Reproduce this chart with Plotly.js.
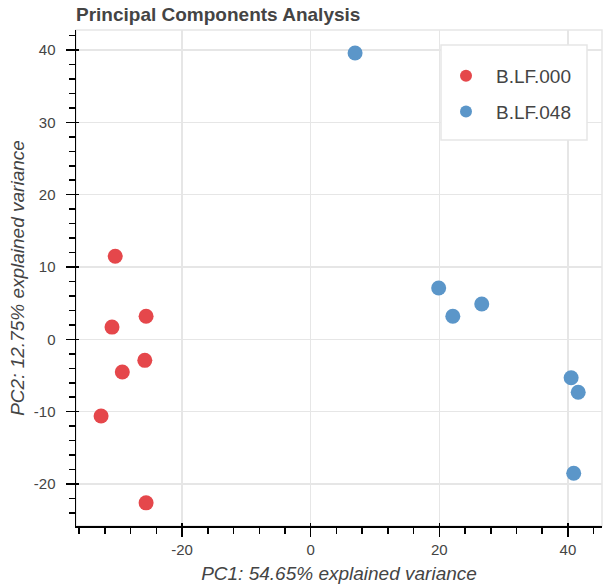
<!DOCTYPE html>
<html>
<head>
<meta charset="utf-8">
<script src="https://cdn.plot.ly/plotly-3.0.1.min.js"></script>
<style>html,body{margin:0;padding:0;background:#fff;}#chart{width:609px;height:584px;}</style>
</head>
<body>
<div id="chart"></div>
<script>
// Group labels
const groupNames = ["B.LF.000", "B.LF.048"];
// PC scores
const pc1Red  = [-30.4, -30.9, -25.6, -25.8, -29.3, -32.6, -25.6];
const pc2Red  = [11.5, 1.7, 3.2, -2.9, -4.5, -10.6, -22.6];
const pc1Blue = [6.9, 19.9, 22.1, 26.6, 40.5, 41.6, 40.9];
const pc2Blue = [39.6, 7.1, 3.2, 4.9, -5.3, -7.3, -18.5];
const groupColors = ["#e5474b", "#5b96c9"];
// Tick labels (plain hyphen minus, as in the reference)
const xTickVals = [-20, 0, 20, 40];
const xTickText = ["-20", "0", "20", "40"];
const yTickVals = [-20, -10, 0, 10, 20, 30, 40];
const yTickText = ["-20", "-10", "0", "10", "20", "30", "40"];
// Axis texts
const titleText = "Principal Components Analysis";
const xTitle = "PC1: 54.65% explained variance";
const yTitle = "PC2: 12.75% explained variance";
const xRange = [-36.5, 45.3];
const yRange = [-25.8, 42.77];

const FONT = "Liberation Sans, Arial, Helvetica, sans-serif";
const TXT = "#444444";

const traces = [
  {x: pc1Red, y: pc2Red, name: groupNames[0], legendgroup: "a", type: "scatter", mode: "markers",
   marker: {size: 15, color: groupColors[0], line: {width: 0}}},
  {x: pc1Blue, y: pc2Blue, name: groupNames[1], legendgroup: "b", type: "scatter", mode: "markers",
   marker: {size: 15, color: groupColors[1], line: {width: 0}}},
  {x: [], y: [], xaxis: "x2", yaxis: "y2", showlegend: false, type: "scatter", mode: "markers", hoverinfo: "skip"}
];

const axisCommon = {
  showline: true, linecolor: "#000", linewidth: 1.5,
  ticks: "outside", ticklen: 9, tickwidth: 1.5, tickcolor: "#000",
  showgrid: true, gridcolor: "#e6e6e6", gridwidth: 1.3,
  zeroline: false,
  tickfont: {family: FONT, size: 15, color: TXT},
  fixedrange: true
};

const layout = {
  width: 609, height: 584,
  margin: {l: 76, r: 7, t: 30, b: 58, pad: 0},
  paper_bgcolor: "#fff", plot_bgcolor: "#fff",
  font: {family: FONT, color: TXT},
  title: {text: "<b>" + titleText + "</b>", font: {family: FONT, size: 19, color: TXT},
          x: 76/609, xanchor: "left", xref: "container", y: 1 - 14/584, yanchor: "middle", yref: "container"},
  xaxis: Object.assign({}, axisCommon, {
    range: xRange, tickmode: "array", tickvals: xTickVals, ticktext: xTickText,
    minor: {tick0: 0, dtick: 4, ticks: "outside", ticklen: 6, tickwidth: 1.5, tickcolor: "#000", showgrid: false},
    title: {text: "<i>" + xTitle + "</i>", font: {family: FONT, size: 19, color: TXT}, standoff: 15}
  }),
  yaxis: Object.assign({}, axisCommon, {
    range: yRange, tickmode: "array", tickvals: yTickVals, ticktext: yTickText,
    minor: {tick0: 0, dtick: 2, ticks: "outside", ticklen: 6, tickwidth: 1.5, tickcolor: "#000", showgrid: false},
    ticklabelstandoff: 7,
    title: {text: "<i>" + yTitle + "</i>", font: {family: FONT, size: 19, color: TXT}, standoff: 4}
  }),
  xaxis2: {overlaying: "x", anchor: "y2", range: xRange, tickmode: "array", tickvals: xTickVals, ticks: "inside", ticklen: 3,
           tickwidth: 1.5, tickcolor: "#000", showticklabels: false, showgrid: false, zeroline: false, showline: false, fixedrange: true},
  yaxis2: {overlaying: "y", anchor: "x2", range: yRange, tickmode: "array", tickvals: yTickVals, ticks: "inside", ticklen: 3,
           tickwidth: 1.5, tickcolor: "#000", showticklabels: false, showgrid: false, zeroline: false, showline: false, fixedrange: true},
  shapes: [
    {type: "rect", xref: "paper", yref: "paper", x0: 0, x1: 1, y0: 0, y1: 1,
     line: {color: "#e6e6e6", width: 1.5}, fillcolor: "rgba(0,0,0,0)", layer: "below"},
    {type: "rect", xref: "paper", yref: "paper", x0: (441-76)/526, x1: (587-76)/526, y0: (526-140)/496, y1: (526-45)/496,
     line: {color: "#e6e6e6", width: 1.5}, fillcolor: "#fff", layer: "above"}
  ],
  showlegend: true,
  legend: {x: (436-76)/526, xanchor: "left", y: (526-57)/496, yanchor: "top",
           bgcolor: "rgba(0,0,0,0)", borderwidth: 0,
           font: {family: FONT, size: 19, color: TXT},
           itemsizing: "constant", itemwidth: 50, traceorder: "grouped", tracegroupgap: 8}
};

Plotly.newPlot("chart", traces, layout, {displayModeBar: false, staticPlot: true});
</script>
</body>
</html>
